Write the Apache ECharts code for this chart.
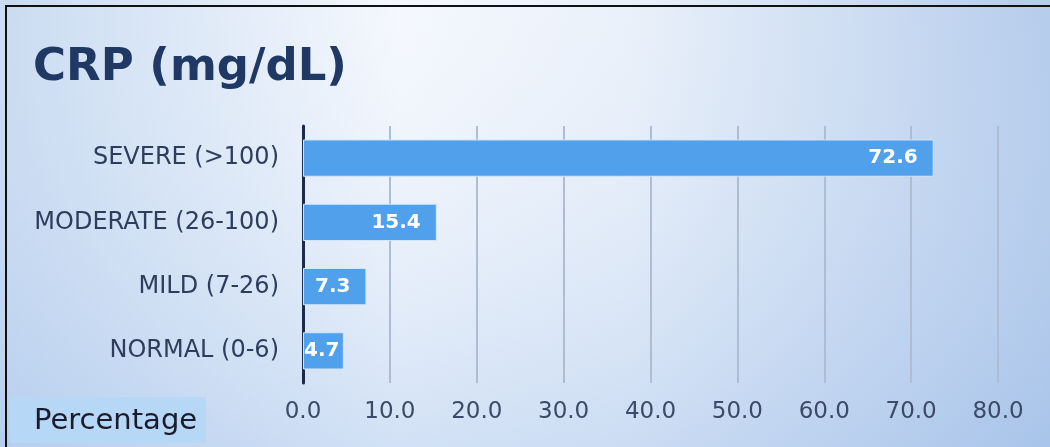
<!DOCTYPE html>
<html>
<head>
<meta charset="utf-8">
<script src="https://cdn.jsdelivr.net/npm/echarts@6/dist/echarts.min.js"></script>
<style>
  html, body { margin: 0; padding: 0; }
  #chart { width: 1050px; height: 447px; }
</style>
</head>
<body>
<div id="chart"></div>
<script>
// categories bottom -> top (as drawn on category axis)
var categories = ['NORMAL (0-6)', 'MILD (7-26)', 'MODERATE (26-100)', 'SEVERE (>100)'];
var percentValues = [4.7, 7.3, 15.4, 72.6];
var xTicks = [0, 10, 20, 30, 40, 50, 60, 70, 80];

var FONT = 'DejaVu Sans';
var myChart = echarts.init(document.getElementById('chart'));

// short bars: label starts at the bar's base and runs past its end
var barData = percentValues.map(function (v) {
    if (v < 6) {
        return { value: v, label: { position: 'insideLeft', distance: 1 } };
    }
    return v;
});

var option = {
    animation: false,
    backgroundColor: {
        type: 'linear', x: 0, y: 0, x2: 1, y2: 0,
        colorStops: [
            { offset: 0, color: '#c0d5ef' },
            { offset: 0.38, color: '#f3f7fd' },
            { offset: 0.6, color: '#e6eef9' },
            { offset: 1, color: '#a8c3e8' }
        ]
    },
    title: {
        text: 'CRP (mg/dL)',
        left: 28, top: 41,
        textStyle: { fontFamily: FONT, fontWeight: 'bold', fontSize: 45, color: '#1f3864' }
    },
    graphic: [
        // soft vertical shading
        { type: 'rect', z: -10, shape: { x: 0, y: 0, width: 1050, height: 447 },
          style: { fill: { type: 'linear', x: 0, y: 0, x2: 0, y2: 1,
                           colorStops: [{ offset: 0, color: 'rgba(255,255,255,0.15)' },
                                        { offset: 1, color: 'rgba(170,198,236,0.45)' }] } } },
        // black frame top/left
        { type: 'rect', shape: { x: 5, y: 5, width: 1045, height: 2 }, style: { fill: '#111' } },
        { type: 'rect', shape: { x: 5, y: 5, width: 2, height: 442 }, style: { fill: '#111' } },
        // "Percentage" box
        { type: 'rect', shape: { x: 10, y: 397, width: 196, height: 46 }, style: { fill: '#b7d7f7' } },
        { type: 'text', left: 34, top: 407,
          style: { text: 'Percentage', fontFamily: FONT, fontSize: 29, fill: '#1b1b2b' } }
    ],
    grid: { left: 303, right: 52, top: 126, bottom: 64, containLabel: false },
    xAxis: {
        type: 'value',
        min: xTicks[0], max: xTicks[xTicks.length - 1], interval: 10,
        axisLine: { show: false },
        axisTick: { show: false },
        splitLine: { show: true, lineStyle: { color: '#aebdd2', width: 2 } },
        axisLabel: {
            margin: 18,
            fontFamily: FONT, fontSize: 23, color: '#3b4a66',
            formatter: function (v) { return v.toFixed(1); }
        }
    },
    yAxis: {
        type: 'category',
        data: categories,
        axisLine: { show: true, lineStyle: { color: '#1c2b4a', width: 3 } },
        axisTick: { show: false },
        axisLabel: { margin: 24, fontFamily: FONT, fontSize: 24, color: '#2e3d5c' }
    },
    series: [
        {
            type: 'bar',
            data: barData,
            barCategoryGap: '42%',
            itemStyle: { color: '#50a0ec', borderColor: '#d2e6fb', borderWidth: 1 },
            label: {
                show: true, position: 'insideRight', distance: 16,
                fontFamily: FONT, fontWeight: 'bold', fontSize: 20, color: '#ffffff',
                formatter: function (p) { return p.value.toFixed(1); }
            }
        }
    ]
};

myChart.setOption(option);
</script>
</body>
</html>
